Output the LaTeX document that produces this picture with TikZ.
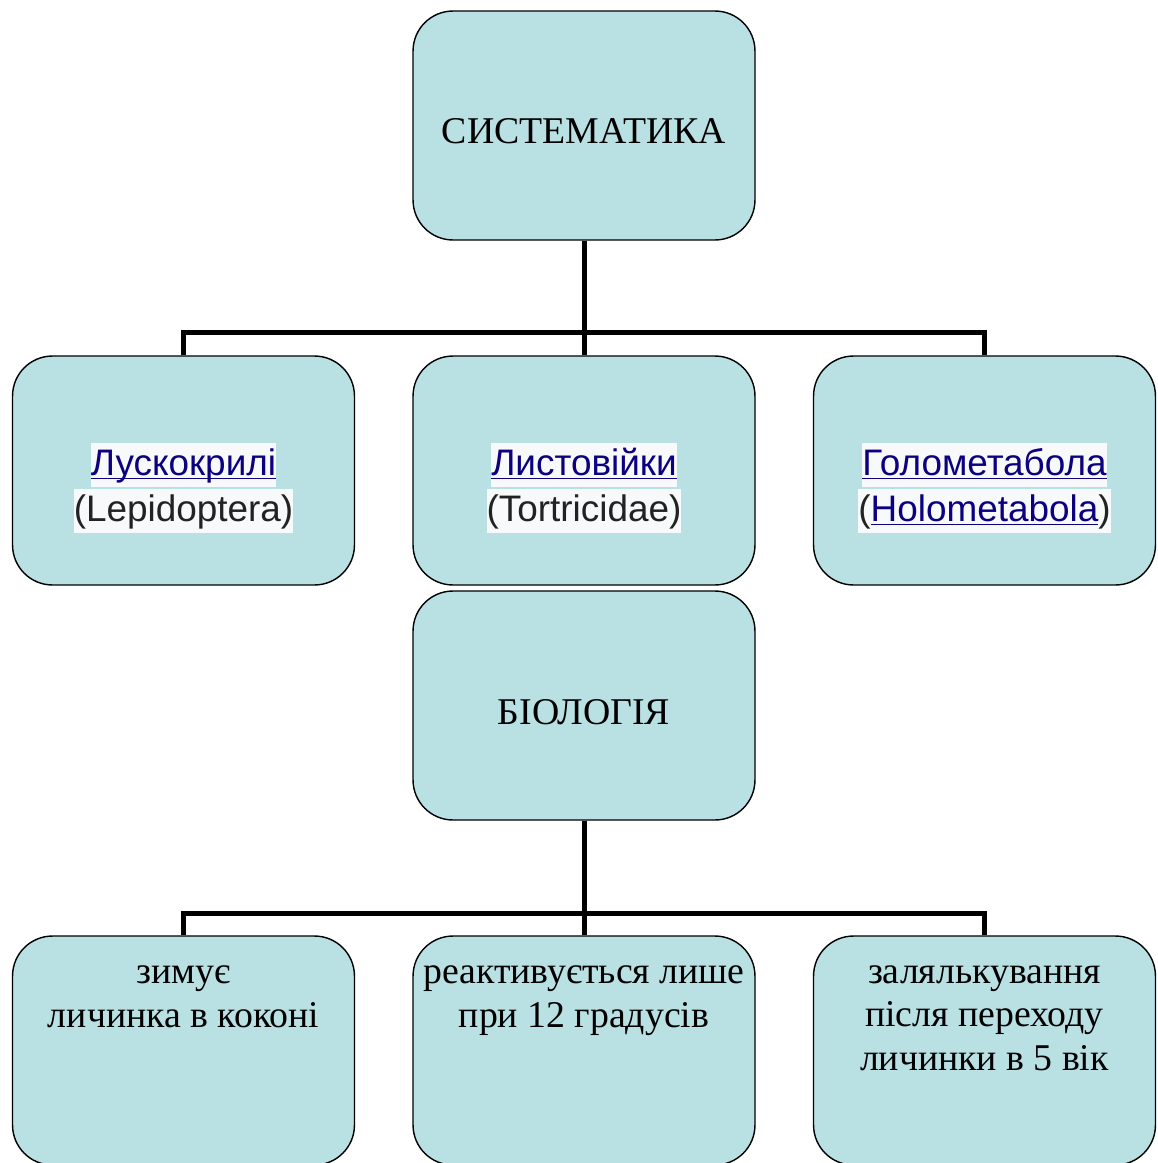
\documentclass[tikz,border=0pt]{standalone}
\usepackage{fontspec}
\setmainfont{Liberation Serif}
\setsansfont{Liberation Sans}
\usepackage{tikz}
\usetikzlibrary{positioning}
\definecolor{boxteal}{RGB}{185,224,227}
\definecolor{linkblue}{RGB}{11,0,128}
\definecolor{hlgray}{RGB}{248,249,250}
\definecolor{txtgray}{RGB}{34,34,34}

% link text: blue and underlined
\newcommand{\lnk}[1]{\textcolor{linkblue}{\setbox0\hbox{#1}\rlap{\rule[-2.3pt]{\wd0}{1pt}}\box0}}
% light highlight behind a pasted line
\newcommand{\hlbox}[1]{{\setlength{\fboxsep}{0pt}\colorbox{hlgray}{\rule[-6.6pt]{0pt}{25pt}#1}}}

\begin{document}
\begin{tikzpicture}[x=0.02cm,y=-0.02cm,
  card/.style={draw=black,line width=0.8pt,fill=boxteal,rounded corners=0.8cm,
    minimum width=6.84cm,minimum height=4.58cm,inner sep=0pt},
  head/.style={font=\fontsize{21.5}{25}\selectfont,inner sep=0pt},
  taxon/.style={font=\sffamily\fontsize{21}{26.2}\selectfont,align=center,inner sep=0pt},
  note/.style={font=\fontsize{21.5}{24.5}\selectfont,align=center,anchor=base,inner sep=0pt},
  link/.style={line width=2.85pt}]
\useasboundingbox (0,0) rectangle (1157,1163);

% Boxes
\node[card] (sys) at (584,125.5) {};
\node[card] (lep) at (183.5,470.5) {};
\node[card] (tor) at (584,470.5) {};
\node[card] (hol) at (984.5,470.5) {};
\node[card] (bio) at (584,705.5) {};
\node[card] (winter) at (183.5,1050.5) {};
\node[card] (react) at (584,1050.5) {};
\node[card] (pupa) at (984.5,1050.5) {};

% Connectors
\coordinate (busA) at (584,332);
\coordinate (busB) at (584,913);
\draw[link] (sys.south) -- (busA);
\draw[link] (busA) -| (lep.north);
\draw[link] (busA) -- (tor.north);
\draw[link] (busA) -| (hol.north);
\draw[link] (bio.south) -- (busB);
\draw[link] (busB) -| (winter.north);
\draw[link] (busB) -- (react.north);
\draw[link] (busB) -| (pupa.north);

% Labels
\node[head] (sysText) at (584,131.5) {СИСТЕМАТИКА};
\node[head] (bioText) at (584,712) {БІОЛОГІЯ};
\node[taxon] (lepText) at (183.5,488) {\hlbox{\lnk{Лускокрилі}}\\\hlbox{\textcolor{txtgray}{(Lepidoptera)}}};
\node[taxon] (torText) at (584,488) {\hlbox{\lnk{Листовійки}}\\\hlbox{\textcolor{txtgray}{(Tortricidae)}}};
\node[taxon] (holText) at (984.5,488) {\hlbox{\lnk{Голометабола}}\\\hlbox{\textcolor{txtgray}{(}\lnk{Holometabola}\textcolor{txtgray}{)}}};
% base = last line, so the first line sits near y=984
\node[note] (winterText) at (183.5,1027) {зимує\\личинка в коконі};
\node[note] (reactText) at (584,1027) {реактивується лише\\при 12 градусів};
\node[note] (pupaText) at (984.5,1070) {залялькування\\після переходу\\личинки в 5 вік};
\end{tikzpicture}
\end{document}
